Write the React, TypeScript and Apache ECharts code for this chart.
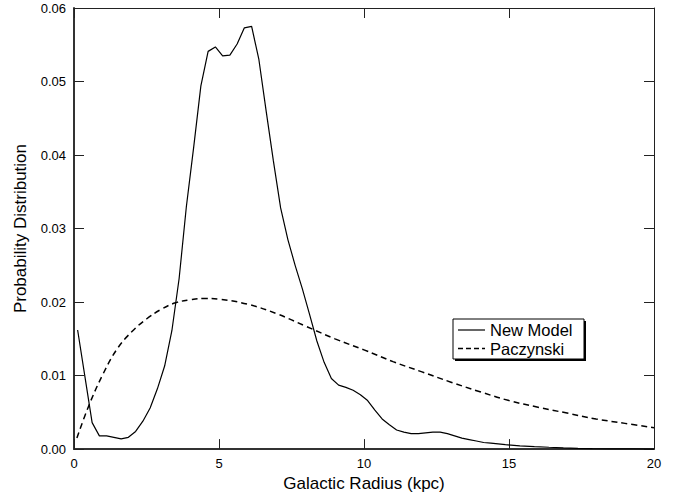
import React, { useEffect, useRef } from "react";
import * as echarts from "echarts";

const newModelX = [
  0.125, 0.375, 0.625, 0.875, 1.125, 1.375, 1.625, 1.875, 2.125, 2.375, 2.625, 2.875,
  3.125, 3.375, 3.625, 3.875, 4.125, 4.375, 4.625, 4.875, 5.125, 5.375, 5.625, 5.875,
  6.125, 6.375, 6.625, 6.875, 7.125, 7.375, 7.625, 7.875, 8.125, 8.375, 8.625, 8.875,
  9.125, 9.375, 9.625, 9.875, 10.125, 10.375, 10.625, 10.875, 11.125, 11.375, 11.625, 11.875,
  12.125, 12.375, 12.625, 12.875, 13.125, 13.375, 13.625, 13.875, 14.125, 14.375, 14.625, 14.875,
  15.375, 15.875, 16.375, 16.875, 17.375, 17.875, 18.5, 19.25, 20,
];
const newModelY = [
  0.0162, 0.0099, 0.0036, 0.0018, 0.0018, 0.0016, 0.0014, 0.0016, 0.0024, 0.0038, 0.0056, 0.0082,
  0.0113, 0.0161, 0.0232, 0.033, 0.041, 0.0494, 0.0541, 0.0547, 0.0535, 0.0536, 0.0551, 0.0573,
  0.0575, 0.053, 0.046, 0.0392, 0.0328, 0.0285, 0.025, 0.0218, 0.0183, 0.0147, 0.0118, 0.0096,
  0.0087, 0.0084, 0.008, 0.0074, 0.0066, 0.0053, 0.0041, 0.0033, 0.0026, 0.0023, 0.0021, 0.0021,
  0.0022, 0.0023, 0.0023, 0.0021, 0.0018, 0.0015, 0.0013, 0.0011, 0.0009, 0.0008, 0.0007, 0.0006,
  0.00045, 0.00034, 0.00025, 0.00017, 0.0001, 0.00007, 0.00004, 0.00002, 0.0,
];

const paczX = [0.1, 0.5, 1, 1.5, 2, 2.5, 3, 3.5, 4, 4.5, 5, 6, 7, 8, 9, 10, 11, 12, 13, 14, 15, 16, 17, 18, 19, 20];
const paczY = [
  0.0015, 0.0058, 0.0102, 0.0137, 0.016, 0.0177, 0.019, 0.0199, 0.0203, 0.0205, 0.0204, 0.0197,
  0.0184, 0.0167, 0.015, 0.0135, 0.0119, 0.0105, 0.0091, 0.0078, 0.0066, 0.0057, 0.0049, 0.0041,
  0.0035, 0.0029,
];

const seriesNames = ["New Model", "Paczynski"];

const xTicks = { min: 0, max: 20, interval: 5 };
const yTicks = { min: 0, max: 0.06, interval: 0.01 };

const FONT = "Liberation Sans, Arial, Helvetica, sans-serif";

export default function App() {
  const ref = useRef<HTMLDivElement>(null);
  useEffect(() => {
    if (!ref.current) return;
    const chart = echarts.init(ref.current, undefined, { renderer: "svg" });
    const axisColor = "#222";
    const tickCommon = { show: true, inside: true, length: 10, lineStyle: { color: axisColor, width: 1 } };
    const lgX = 453;
    const lgY = 319;
    const lgW = 131;
    const lgH = 40;
    const row1 = lgY + 11;
    const row2 = lgY + 29.5;
    chart.setOption({
      animation: false,
      backgroundColor: "#fff",
      textStyle: { fontFamily: FONT },
      grid: { left: 74, right: 26, top: 8, bottom: 44 },
      graphic: [
        {
          type: "rect",
          z: 100,
          shape: { x: lgX + 2, y: lgY + 2, width: lgW, height: lgH },
          style: { fill: "#000" },
        },
        {
          type: "rect",
          z: 101,
          shape: { x: lgX, y: lgY, width: lgW, height: lgH },
          style: { fill: "#fff", stroke: "#000", lineWidth: 1 },
        },
        {
          type: "line",
          z: 102,
          shape: { x1: lgX + 5, y1: row1, x2: lgX + 32, y2: row1 },
          style: { stroke: "#000", lineWidth: 1.2 },
        },
        {
          type: "line",
          z: 102,
          shape: { x1: lgX + 5, y1: row2, x2: lgX + 32, y2: row2 },
          style: { stroke: "#000", lineWidth: 1.5, lineDash: [5, 3] },
        },
        {
          type: "text",
          z: 102,
          x: lgX + 37,
          y: row1,
          style: {
            text: seriesNames[0],
            font: `16.5px ${FONT}`,
            fill: "#000",
            verticalAlign: "middle",
            align: "left",
          },
        },
        {
          type: "text",
          z: 102,
          x: lgX + 37,
          y: row2,
          style: {
            text: seriesNames[1],
            font: `16.5px ${FONT}`,
            fill: "#000",
            verticalAlign: "middle",
            align: "left",
          },
        },
      ],
      xAxis: [
        {
          type: "value",
          ...xTicks,
          position: "bottom",
          name: "Galactic Radius (kpc)",
          nameLocation: "middle",
          nameGap: 21,
          nameTextStyle: { fontSize: 17, color: "#000", fontFamily: FONT },
          axisLine: { show: true, onZero: false, lineStyle: { color: "#333", width: 2 } },
          axisTick: tickCommon,
          axisLabel: { fontSize: 13, color: "#000", margin: 8, fontFamily: FONT },
          splitLine: { show: false },
        },
        {
          type: "value",
          ...xTicks,
          position: "top",
          axisLine: { show: true, onZero: false, lineStyle: { color: axisColor, width: 1 } },
          axisTick: tickCommon,
          axisLabel: { show: false },
          splitLine: { show: false },
        },
      ],
      yAxis: [
        {
          type: "value",
          ...yTicks,
          position: "left",
          name: "Probability Distribution",
          nameLocation: "middle",
          nameGap: 45,
          nameTextStyle: { fontSize: 17, color: "#000", fontFamily: FONT },
          axisLine: { show: true, onZero: false, lineStyle: { color: "#333", width: 2 } },
          axisTick: tickCommon,
          axisLabel: {
            fontSize: 13,
            color: "#000",
            margin: 8,
            fontFamily: FONT,
            formatter: (v: number) => v.toFixed(2),
          },
          splitLine: { show: false },
        },
        {
          type: "value",
          ...yTicks,
          position: "right",
          axisLine: { show: true, onZero: false, lineStyle: { color: axisColor, width: 1 } },
          axisTick: tickCommon,
          axisLabel: { show: false },
          splitLine: { show: false },
        },
      ],
      series: [
        {
          name: seriesNames[0],
          type: "line",
          xAxisIndex: 0,
          yAxisIndex: 0,
          symbol: "none",
          showSymbol: false,
          smooth: false,
          lineStyle: { color: "#000", width: 1.2, type: "solid" },
          itemStyle: { color: "#000" },
          data: newModelX.map((x, i) => [x, newModelY[i]]),
        },
        {
          name: seriesNames[1],
          type: "line",
          xAxisIndex: 0,
          yAxisIndex: 0,
          symbol: "none",
          showSymbol: false,
          smooth: 0.4,
          lineStyle: { color: "#000", width: 1.5, type: [6, 4] },
          itemStyle: { color: "#000" },
          data: paczX.map((x, i) => [x, paczY[i]]),
        },
      ],
    });
    return () => chart.dispose();
  }, []);
  return (
    <div
      ref={ref}
      style={{ position: "absolute", left: 0, top: 0, width: 680, height: 497 }}
    />
  );
}
